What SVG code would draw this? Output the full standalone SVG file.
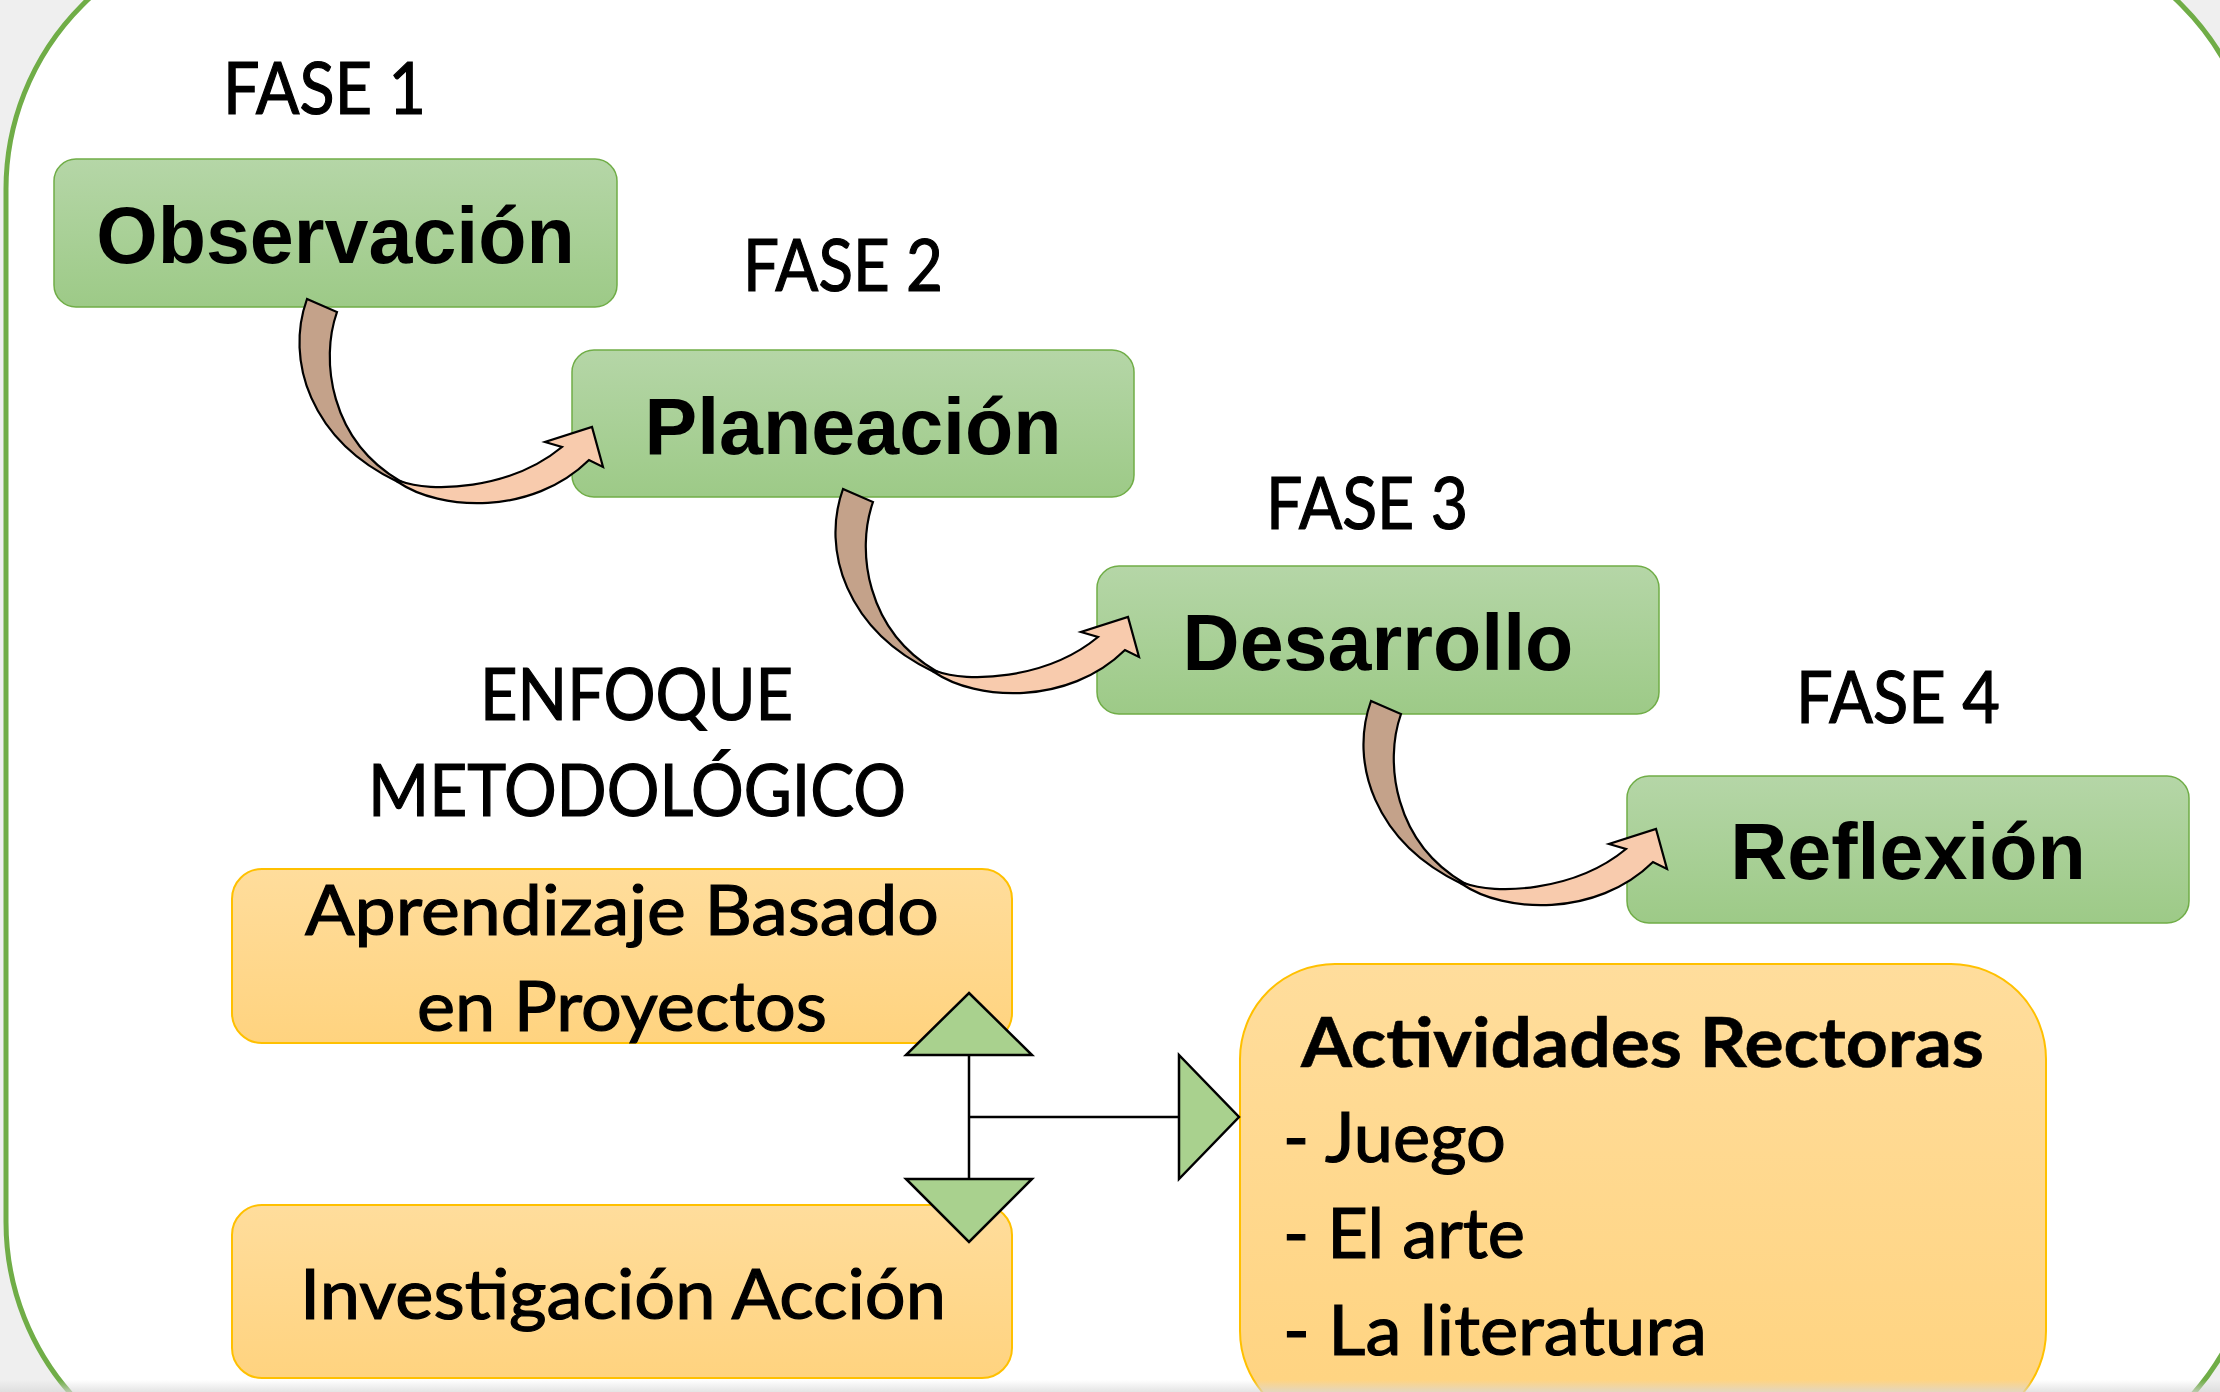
<svg xmlns="http://www.w3.org/2000/svg" xmlns:xlink="http://www.w3.org/1999/xlink" width="2220" height="1392" viewBox="0 0 2220 1392">
  <defs>
    <linearGradient id="gGreen" x1="0" y1="0" x2="0" y2="1">
      <stop offset="0" stop-color="#B5D6A7"/>
      <stop offset="1" stop-color="#9DCA87"/>
    </linearGradient>
    <linearGradient id="gOrange" x1="0" y1="0" x2="0" y2="1">
      <stop offset="0" stop-color="#FFDD9C"/>
      <stop offset="1" stop-color="#FFD37F"/>
    </linearGradient>
    <linearGradient id="gOrangeBig" x1="0" y1="0" x2="0" y2="1">
      <stop offset="0" stop-color="#FFDD9C"/>
      <stop offset="1" stop-color="#FFD27C"/>
    </linearGradient>
    <linearGradient id="gShadow" x1="0" y1="0" x2="0" y2="1">
      <stop offset="0" stop-color="#D8D8D8" stop-opacity="0"/>
      <stop offset="1" stop-color="#D8D8D8" stop-opacity="0.7"/>
    </linearGradient>
    <g id="curvedArrow">
      <path class="arrDark" d="M307,299 C285,360 310,440 398,482 L400,481 C330,440 320,360 337,312 Z"/>
      <path class="arrLight" d="M398,482 C440,511 532,516 589,460 L603,467 L592,427 L545,442 L562,447 C510,490 430,493 400,481 Z"/>
    </g>
    <style>
      .phase { fill: url(#gGreen); stroke: #70AD47; stroke-width: 1.5; }
      .phaseText { font-family: "Liberation Sans", Arial, sans-serif; font-weight: bold; font-size: 79px; fill: #000; text-anchor: middle; }
      .label { font-family: Lato, "Open Sans", sans-serif; font-size: 71px; fill: #000; stroke: #000; stroke-width: 1.2; }
      .obox { fill: url(#gOrange); stroke: #FFC000; stroke-width: 2; }
      .otext { font-family: Lato, "Open Sans", sans-serif; font-size: 69px; fill: #000; stroke: #000; stroke-width: 1.2; }
      .bold { font-weight: bold; stroke-width: 0.6; }
      .arrDark { fill: #C4A28A; stroke: #000; stroke-width: 2.2; stroke-linejoin: miter; }
      .arrLight { fill: #F8CBAD; stroke: #000; stroke-width: 2.2; stroke-linejoin: miter; }
      .tri { fill: #A9D18E; stroke: #000; stroke-width: 2.5; stroke-linejoin: miter; }
      .line { stroke: #000; stroke-width: 2.5; fill: none; }
    </style>
  </defs>

  <rect x="0" y="0" width="2220" height="1392" fill="#EFEFEF"/>
  <rect id="frame" x="6" y="-71" width="2252" height="1553" rx="260" ry="260" fill="#FFFFFF" stroke="#70AD47" stroke-width="5"/>

  <g id="fase-labels">
    <text class="label" x="223" y="114" textLength="203" lengthAdjust="spacingAndGlyphs">FASE 1</text>
    <text class="label" x="743" y="291" textLength="200" lengthAdjust="spacingAndGlyphs">FASE 2</text>
    <text class="label" x="1266" y="529" textLength="202" lengthAdjust="spacingAndGlyphs">FASE 3</text>
    <text class="label" x="1796" y="723" textLength="204" lengthAdjust="spacingAndGlyphs">FASE 4</text>
  </g>

  <g id="node-observacion">
    <rect class="phase" x="54" y="159" width="563" height="148" rx="22"/>
    <text class="phaseText" x="335.5" y="263">Observación</text>
  </g>
  <g id="node-planeacion">
    <rect class="phase" x="572" y="350" width="562" height="147" rx="22"/>
    <text class="phaseText" x="853" y="454">Planeación</text>
  </g>
  <g id="node-desarrollo">
    <rect class="phase" x="1097" y="566" width="562" height="148" rx="22"/>
    <text class="phaseText" x="1378" y="670">Desarrollo</text>
  </g>
  <g id="node-reflexion">
    <rect class="phase" x="1627" y="776" width="562" height="147" rx="22"/>
    <text class="phaseText" x="1908" y="879">Reflexión</text>
  </g>

  <g id="connectors">
    <use xlink:href="#curvedArrow" href="#curvedArrow"/>
    <use xlink:href="#curvedArrow" href="#curvedArrow" transform="translate(536,190)"/>
    <use xlink:href="#curvedArrow" href="#curvedArrow" transform="translate(1064,402)"/>
  </g>

  <g id="enfoque-label">
    <text class="label" x="480" y="720" font-size="70" textLength="313" lengthAdjust="spacingAndGlyphs">ENFOQUE</text>
    <text class="label" x="368" y="816" font-size="70" textLength="538" lengthAdjust="spacingAndGlyphs">METODOLÓGICO</text>
  </g>

  <g id="node-abp">
    <rect class="obox" x="232" y="869" width="780" height="174" rx="30"/>
    <text class="otext" x="305" y="935" textLength="634" lengthAdjust="spacingAndGlyphs">Aprendizaje Basado</text>
    <text class="otext" x="417" y="1031" textLength="410" lengthAdjust="spacingAndGlyphs">en Proyectos</text>
  </g>
  <g id="node-ia">
    <rect class="obox" x="232" y="1205" width="780" height="173" rx="30"/>
    <text class="otext" x="300" y="1319" font-size="70" textLength="646" lengthAdjust="spacingAndGlyphs">Investigación Acción</text>
  </g>
  <g id="node-actividades">
    <rect class="obox" x="1240" y="964" width="806" height="462" rx="95" ry="95" fill="url(#gOrangeBig)"/>
    <text class="otext bold" x="1301" y="1067" font-size="70" textLength="683" lengthAdjust="spacingAndGlyphs">Actividades Rectoras</text>
    <text class="otext" x="1283" y="1162" font-size="70" textLength="223" lengthAdjust="spacingAndGlyphs">- Juego</text>
    <text class="otext" x="1283" y="1258" font-size="70" textLength="242" lengthAdjust="spacingAndGlyphs">- El arte</text>
    <text class="otext" x="1283" y="1355" font-size="70" textLength="424" lengthAdjust="spacingAndGlyphs">- La literatura</text>
  </g>

  <g id="connectors-enfoque">
    <line class="line" x1="969" y1="1055" x2="969" y2="1179"/>
    <line class="line" x1="969" y1="1117" x2="1179" y2="1117"/>
    <polygon class="tri" points="969,993 1032,1055 906,1055"/>
    <polygon class="tri" points="906,1179 1032,1179 969,1242"/>
    <polygon class="tri" points="1179,1055 1179,1179 1239,1117"/>
  </g>

  <rect x="0" y="1380" width="2220" height="12" fill="url(#gShadow)"/>
</svg>
